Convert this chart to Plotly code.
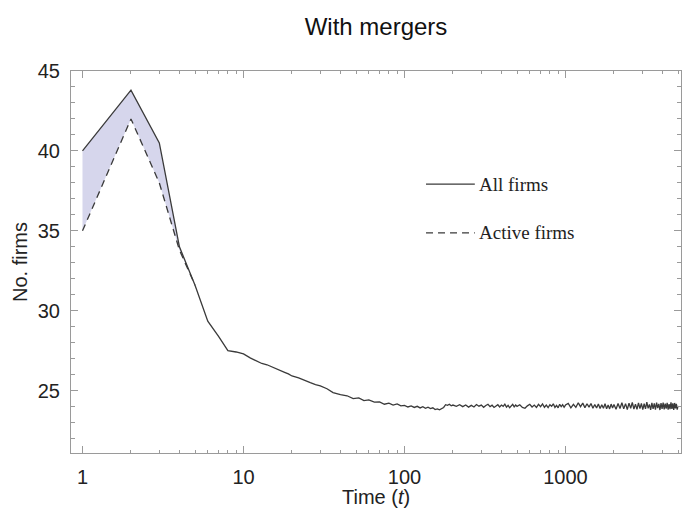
import plotly.graph_objects as go

# Number of firms over time (log time axis), with mergers
t_early = [1, 2, 3, 4, 5, 6, 7, 8, 9]
all_early = [40.0, 43.8, 40.5, 34.0, 31.6, 29.35, 28.4, 27.5, 27.42]
active_early = [35.0, 42.0, 38.0, 33.8, 31.6]

t_mid = [10, 11, 12, 13, 14, 15, 16, 17, 18, 19, 20, 22, 24, 26, 28, 30,
         33, 36, 40, 44, 48, 52, 56, 60, 65, 70, 75, 80, 85, 90, 95]
all_mid = [27.3, 27.05, 26.85, 26.7, 26.62, 26.5, 26.4, 26.28, 26.15, 26.05,
           25.92, 25.8, 25.62, 25.5, 25.38, 25.3, 25.12, 24.88, 24.75, 24.68,
           24.5, 24.55, 24.38, 24.42, 24.28, 24.3, 24.15, 24.22, 24.1, 24.17,
           24.05]

t_late1 = [100, 105, 110, 115, 120, 125, 130, 135, 140, 145, 150, 155, 160,
           165, 170, 175, 180, 185, 190, 195, 200]
all_late1 = [24.08, 23.98, 24.05, 23.95, 24.02, 23.92, 24.0, 23.9, 23.97,
             23.88, 23.93, 23.82, 23.86, 23.80, 23.9, 23.95, 24.12, 24.08,
             24.15, 24.05, 24.1]

t_late2 = [210, 220, 230, 240, 250, 260, 270, 280, 290, 300, 310, 320, 330,
           340, 350, 360, 370, 380, 390, 400, 410, 420, 430, 440, 450, 460,
           470, 480, 490, 500]
all_late2 = [24.02, 24.12, 24.0, 24.1, 23.97, 24.08, 23.98, 24.13, 24.03,
             24.1, 23.96, 24.07, 24.15, 24.0, 24.09, 23.95, 24.05, 24.12,
             23.98, 24.1, 24.02, 24.16, 23.97, 24.08, 23.93, 24.06, 24.14,
             23.99, 24.1, 24.02]

t_late3 = [520, 540, 560, 580, 600, 620, 640, 660, 680, 700, 720, 740, 760,
           780, 800, 820, 840, 860, 880, 900, 920, 940, 960, 980, 1000]
all_late3 = [24.12, 23.95, 23.9, 24.05, 24.15, 23.98, 24.1, 23.95, 24.14,
             24.0, 24.17, 23.96, 24.1, 23.94, 24.12, 24.02, 24.18, 23.95,
             24.08, 23.93, 24.15, 24.0, 24.12, 23.96, 24.1]

t_late4 = [1040, 1080, 1120, 1160, 1200, 1240, 1280, 1320, 1360, 1400, 1440,
           1480, 1520, 1560, 1600, 1640, 1680, 1720, 1760, 1800, 1840, 1880,
           1920, 1960, 2000]
all_late4 = [24.2, 23.93, 24.15, 23.96, 24.24, 24.0, 24.22, 23.94, 24.18,
             23.97, 24.2, 23.9, 24.13, 23.92, 24.16, 23.88, 24.12, 23.9,
             24.18, 23.87, 24.1, 23.86, 24.16, 23.91, 24.14]

t_late5 = [2060, 2120, 2180, 2240, 2300, 2360, 2420, 2480, 2540, 2600, 2660,
           2720, 2780, 2840, 2900, 2960, 3020, 3080, 3140, 3200, 3260, 3320,
           3380, 3440, 3500, 3560, 3620, 3680, 3740, 3800, 3860, 3920, 3980,
           4040, 4100, 4160, 4220, 4280, 4340, 4400, 4460, 4520, 4580, 4640,
           4700, 4760, 4820, 4880, 4940, 5000]
all_late5 = [23.84, 24.2, 23.88, 24.24, 23.86, 24.19, 23.82, 24.22, 23.9,
             24.26, 23.85, 24.16, 23.83, 24.24, 23.88, 24.2, 23.81, 24.18,
             23.86, 24.28, 23.89, 24.14, 23.8, 24.23, 23.86, 24.21, 23.82,
             24.25, 23.91, 24.17, 23.79, 24.22, 23.86, 24.26, 23.83, 24.19,
             23.88, 24.24, 23.81, 24.16, 23.84, 24.27, 23.86, 24.2, 23.8,
             24.23, 23.89, 24.18, 23.82, 24.05]

x_tick_vals = [1, 10, 100, 1000]
x_tick_text = ["1", "10", "100", "1000"]
x_minor_vals = [2, 3, 4, 5, 6, 7, 8, 9, 20, 30, 40, 50, 60, 70, 80, 90,
                200, 300, 400, 500, 600, 700, 800, 900, 2000, 3000, 4000, 5000]
y_tick_vals = [25, 30, 35, 40, 45]

legend_labels = ["All firms", "Active firms"]

t_all = t_early + t_mid + t_late1 + t_late2 + t_late3 + t_late4 + t_late5
n_all = all_early + all_mid + all_late1 + all_late2 + all_late3 + all_late4 + all_late5
t_active = t_early[:len(active_early)]

LINE = "#3a3a3a"
AXIS = "#9a9a9a"
FILL = "rgb(214,214,236)"

fig = go.Figure()

# lower boundary of the shaded gap: active firms
fig.add_trace(go.Scatter(
    x=t_active, y=active_early, mode="lines",
    line=dict(width=0), showlegend=False, hoverinfo="skip"))

# shaded gap between all and active firms
fig.add_trace(go.Scatter(
    x=t_active, y=all_early[:len(active_early)], mode="lines",
    line=dict(width=0), fill="tonexty", fillcolor=FILL,
    showlegend=False, hoverinfo="skip"))

# active firms (dashed)
fig.add_trace(go.Scatter(
    x=t_active, y=active_early, mode="lines",
    line=dict(color=LINE, width=1.3, dash="7px,5px"),
    showlegend=False))

# all firms (solid)
fig.add_trace(go.Scatter(
    x=t_all, y=n_all, mode="lines",
    line=dict(color=LINE, width=1.3),
    showlegend=False))

axis_common = dict(
    showline=True, linecolor=AXIS, linewidth=1, mirror="ticks",
    ticks="inside", tickcolor=AXIS, ticklen=7, tickwidth=1,
    showgrid=False, zeroline=False,
    tickfont=dict(family="Liberation Sans, Arial, sans-serif", size=20, color="#222"),
)

fig.update_xaxes(
    type="log", range=[-0.0714, 3.7174],
    tickvals=x_tick_vals, ticktext=x_tick_text,
    minor=dict(tickvals=x_minor_vals, ticks="inside", ticklen=3,
               tickcolor=AXIS, showgrid=False),
    ticklabelstandoff=6,
    **axis_common)

fig.update_yaxes(
    range=[21.1, 45], tickvals=y_tick_vals,
    minor=dict(dtick=1, ticks="inside", ticklen=4, tickcolor=AXIS,
               showgrid=False),
    ticklabelstandoff=6,
    **axis_common)

# legend drawn as line samples with serif labels
legend_y = [0.704, 0.576]
legend_dash = ["solid", "7px,5px"]
for lab, yy, dsh in zip(legend_labels, legend_y, legend_dash):
    fig.add_shape(type="line", xref="paper", yref="paper",
                  x0=0.582, x1=0.662, y0=yy, y1=yy,
                  line=dict(color=LINE, width=1.3, dash=dsh))
    fig.add_annotation(text=lab, xref="paper", yref="paper",
                       x=0.666, y=yy, xanchor="left", yanchor="middle",
                       showarrow=False,
                       font=dict(family="Liberation Serif, Times New Roman, serif",
                                 size=19, color="#222"))

fig.add_annotation(text="Time (<i>t</i>)", xref="paper", yref="paper",
                   x=0.5, y=-0.115, xanchor="center", yanchor="middle",
                   showarrow=False,
                   font=dict(family="Liberation Sans, Arial, sans-serif", size=20, color="#222"))
fig.add_annotation(text="No. firms", xref="paper", yref="paper",
                   x=-0.0836, y=0.5, xanchor="center", yanchor="middle",
                   textangle=-90, showarrow=False,
                   font=dict(family="Liberation Sans, Arial, sans-serif", size=20, color="#222"))

fig.update_layout(
    width=683, height=518,
    margin=dict(l=71, r=2, t=71, b=65),
    paper_bgcolor="white", plot_bgcolor="white",
    title=dict(text="With mergers", x=0.5, xref="paper", xanchor="center",
               y=1 - 27 / 518, yref="container", yanchor="middle",
               font=dict(family="Liberation Sans, Arial, sans-serif", size=24, color="#111")),
    showlegend=False,
)

fig.write_html("out.html")
